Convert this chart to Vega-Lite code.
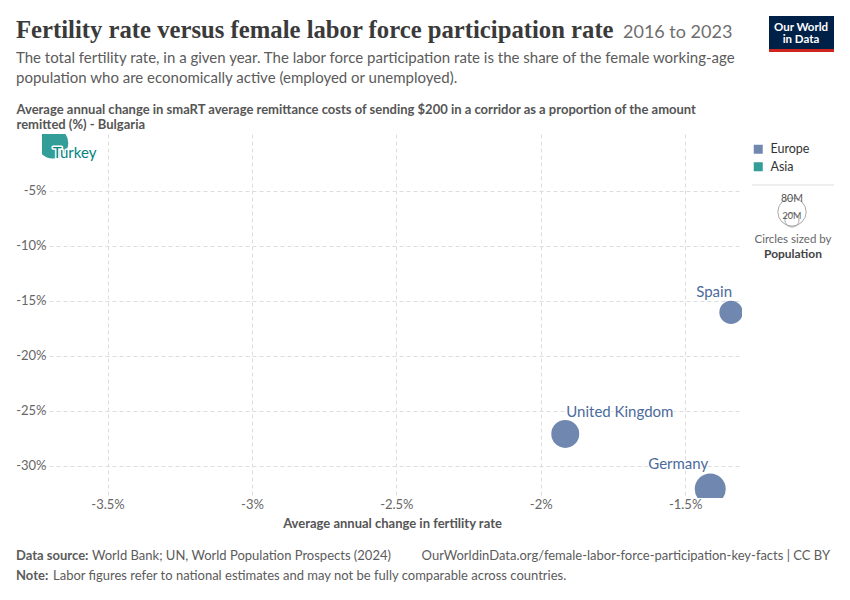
{
  "$schema": "https://vega.github.io/schema/vega-lite/v6.json",
  "width": 700,
  "height": 364,
  "autosize": {"type": "none"},
  "padding": {"left": 42, "top": 134, "right": 108, "bottom": 102},
  "background": "white",
  "datasets": {
    "countries": [
      {"country": "Turkey", "continent": "Asia", "fertility_change": -3.69, "remittance_change": -0.64, "population": 85300000},
      {"country": "Spain", "continent": "Europe", "fertility_change": -1.341, "remittance_change": -16.03, "population": 47900000},
      {"country": "United Kingdom", "continent": "Europe", "fertility_change": -1.915, "remittance_change": -27.09, "population": 68700000},
      {"country": "Germany", "continent": "Europe", "fertility_change": -1.413, "remittance_change": -32.09, "population": 84500000}
    ]
  },
  "data": {"name": "countries"},
  "resolve": {"scale": {"size": "independent"}},
  "config": {
    "view": {"stroke": null},
    "font": "Lato",
    "axis": {
      "domain": false,
      "ticks": false,
      "tickSize": 0,
      "grid": true,
      "gridColor": "#dddddd",
      "gridDash": [4, 3],
      "labelFont": "Lato",
      "labelFontSize": 13,
      "labelColor": "#666666",
      "titleFont": "Lato",
      "titleFontWeight": "bold",
      "titleFontSize": 13,
      "titleColor": "#555555"
    }
  },
  "layer": [
    {
      "mark": {"type": "circle", "opacity": 0.8, "clip": true},
      "encoding": {
        "x": {
          "field": "fertility_change",
          "type": "quantitative",
          "scale": {"domain": [-3.727, -1.303], "nice": false, "zero": false},
          "axis": {
            "values": [-3.5, -3, -2.5, -2, -1.5],
            "labelExpr": "datum.value + '%'",
            "labelPadding": 0,
            "title": "Average annual change in fertility rate",
            "titleBaseline": "alphabetic",
            "titleY": 29
          }
        },
        "y": {
          "field": "remittance_change",
          "type": "quantitative",
          "scale": {"domain": [-32.91, 0.18], "nice": false, "zero": false},
          "axis": {
            "values": [-5, -10, -15, -20, -25, -30],
            "labelExpr": "datum.value + '%'",
            "labelPadding": -4,
            "title": ["Average annual change in smaRT average remittance costs of sending $200 in a corridor as a proportion of the amount", "remitted (%) - Bulgaria"],
            "titleAngle": 0,
            "titleAlign": "left",
            "titleBaseline": "alphabetic",
            "titleX": -26,
            "titleY": -21,
            "titleLineHeight": 15
          }
        },
        "color": {
          "field": "continent",
          "type": "nominal",
          "scale": {"domain": ["Europe", "Asia"], "range": ["#4C6A9C", "#00847E"]},
          "legend": {
            "orient": "none",
            "legendX": 710,
            "legendY": 9,
            "title": null,
            "symbolType": "square",
            "symbolSize": 81,
            "symbolOpacity": 0.8,
            "symbolStrokeWidth": 0,
            "labelFont": "Lato",
            "labelFontSize": 12.5,
            "labelColor": "#333333",
            "labelOffset": 6,
            "rowPadding": 4.5
          }
        },
        "size": {
          "field": "population",
          "type": "quantitative",
          "scale": {"domain": [0, 80000000], "range": [0, 910]},
          "legend": null
        }
      }
    },
    {
      "transform": [{"filter": "datum.country === 'Spain'"}],
      "encoding": {
        "x": {"field": "fertility_change", "type": "quantitative"},
        "y": {"field": "remittance_change", "type": "quantitative"},
        "text": {"field": "country"}
      },
      "layer": [
        {"mark": {"type": "text", "align": "right", "baseline": "alphabetic", "dx": 1, "dy": -15, "fontSize": 15, "fill": "white", "stroke": "white", "strokeWidth": 3, "strokeJoin": "round"}},
        {"mark": {"type": "text", "align": "right", "baseline": "alphabetic", "dx": 1, "dy": -15, "fontSize": 15, "color": "#4C6A9C"}}
      ]
    },
    {
      "transform": [{"filter": "datum.country === 'Germany'"}],
      "encoding": {
        "x": {"field": "fertility_change", "type": "quantitative"},
        "y": {"field": "remittance_change", "type": "quantitative"},
        "text": {"field": "country"}
      },
      "layer": [
        {"mark": {"type": "text", "align": "right", "baseline": "alphabetic", "dx": -2, "dy": -20, "fontSize": 15, "fill": "white", "stroke": "white", "strokeWidth": 3, "strokeJoin": "round"}},
        {"mark": {"type": "text", "align": "right", "baseline": "alphabetic", "dx": -2, "dy": -20, "fontSize": 15, "color": "#4C6A9C"}}
      ]
    },
    {
      "transform": [{"filter": "datum.country === 'United Kingdom'"}],
      "encoding": {
        "x": {"field": "fertility_change", "type": "quantitative"},
        "y": {"field": "remittance_change", "type": "quantitative"},
        "text": {"field": "country"}
      },
      "layer": [
        {"mark": {"type": "text", "align": "left", "baseline": "alphabetic", "dx": 1, "dy": -17, "fontSize": 15, "fill": "white", "stroke": "white", "strokeWidth": 3, "strokeJoin": "round"}},
        {"mark": {"type": "text", "align": "left", "baseline": "alphabetic", "dx": 1, "dy": -17, "fontSize": 15, "color": "#4C6A9C"}}
      ]
    },
    {
      "transform": [{"filter": "datum.country === 'Turkey'"}],
      "encoding": {
        "x": {"field": "fertility_change", "type": "quantitative"},
        "y": {"field": "remittance_change", "type": "quantitative"},
        "text": {"field": "country"}
      },
      "layer": [
        {"mark": {"type": "text", "align": "left", "baseline": "alphabetic", "dx": 0, "dy": 15, "fontSize": 15, "fill": "white", "stroke": "white", "strokeWidth": 3, "strokeJoin": "round"}},
        {"mark": {"type": "text", "align": "left", "baseline": "alphabetic", "dx": 0, "dy": 15, "fontSize": 15, "color": "#00847E"}}
      ]
    },
    {
      "data": {"values": [{"t": "Fertility rate versus female labor force participation rate"}]},
      "mark": {"type": "text", "align": "left", "baseline": "alphabetic", "font": "Liberation Serif", "fontSize": 24.7, "fontWeight": "bold", "color": "#3a3a3a"},
      "encoding": {"x": {"value": -26}, "y": {"value": -96}, "text": {"field": "t"}}
    },
    {
      "data": {"values": [{"t": "2016 to 2023"}]},
      "mark": {"type": "text", "align": "left", "baseline": "alphabetic", "fontSize": 18, "color": "#6e6e6e"},
      "encoding": {"x": {"value": 581}, "y": {"value": -96}, "text": {"field": "t"}}
    },
    {
      "data": {"values": [{"t": ["The total fertility rate, in a given year. The labor force participation rate is the share of the female working-age", "population who are economically active (employed or unemployed)."]}]},
      "mark": {"type": "text", "align": "left", "baseline": "alphabetic", "fontSize": 15, "lineHeight": 20, "color": "#5b5b5b"},
      "encoding": {"x": {"value": -26}, "y": {"value": -71}, "text": {"field": "t"}}
    },
    {
      "data": {"values": [{"t": "logo"}]},
      "mark": {"type": "rect", "color": "#002147"},
      "encoding": {"x": {"value": 727}, "x2": {"value": 792}, "y": {"value": -118}, "y2": {"value": -85}}
    },
    {
      "data": {"values": [{"t": "logo"}]},
      "mark": {"type": "rect", "color": "#ce261e"},
      "encoding": {"x": {"value": 727}, "x2": {"value": 792}, "y": {"value": -85}, "y2": {"value": -82}}
    },
    {
      "data": {"values": [{"t": "Our World"}]},
      "mark": {"type": "text", "align": "center", "baseline": "alphabetic", "fontSize": 11.5, "fontWeight": "bold", "color": "white"},
      "encoding": {"x": {"value": 759}, "y": {"value": -103}, "text": {"field": "t"}}
    },
    {
      "data": {"values": [{"t": "in Data"}]},
      "mark": {"type": "text", "align": "center", "baseline": "alphabetic", "fontSize": 11.5, "fontWeight": "bold", "color": "white"},
      "encoding": {"x": {"value": 759}, "y": {"value": -91.5}, "text": {"field": "t"}}
    },
    {
      "data": {"values": [{"t": "separator"}]},
      "mark": {"type": "rule", "color": "#dddddd"},
      "encoding": {"x": {"value": 710}, "x2": {"value": 792}, "y": {"value": 51}}
    },
    {
      "data": {"values": [{"label": "80M", "population": 80000000}]},
      "mark": {"type": "circle", "filled": false, "stroke": "#aaaaaa", "strokeWidth": 1, "opacity": 1},
      "encoding": {"x": {"value": 750}, "y": {"value": 78}, "size": {"field": "population", "type": "quantitative", "scale": {"domain": [0, 80000000], "range": [0, 800]}, "legend": null}}
    },
    {
      "data": {"values": [{"label": "20M", "population": 20000000}]},
      "mark": {"type": "circle", "filled": false, "stroke": "#aaaaaa", "strokeWidth": 1, "opacity": 1},
      "encoding": {"x": {"value": 750}, "y": {"value": 86}, "size": {"field": "population", "type": "quantitative", "scale": {"domain": [0, 80000000], "range": [0, 800]}, "legend": null}}
    },
    {
      "data": {"values": [{"label": "80M"}]},
      "mark": {"type": "text", "align": "center", "baseline": "middle", "fontSize": 10.5, "color": "#555555"},
      "encoding": {"x": {"value": 750}, "y": {"value": 65}, "text": {"field": "label"}}
    },
    {
      "data": {"values": [{"label": "20M"}]},
      "mark": {"type": "text", "align": "center", "baseline": "middle", "fontSize": 9, "color": "#555555"},
      "encoding": {"x": {"value": 750}, "y": {"value": 82}, "text": {"field": "label"}}
    },
    {
      "data": {"values": [{"t": "Circles sized by"}]},
      "mark": {"type": "text", "align": "center", "baseline": "middle", "fontSize": 11.5, "color": "#666666"},
      "encoding": {"x": {"value": 751}, "y": {"value": 106}, "text": {"field": "t"}}
    },
    {
      "data": {"values": [{"t": "Population"}]},
      "mark": {"type": "text", "align": "center", "baseline": "middle", "fontSize": 12, "fontWeight": "bold", "color": "#444444"},
      "encoding": {"x": {"value": 751}, "y": {"value": 120}, "text": {"field": "t"}}
    },
    {
      "data": {"values": [{"t": "Data source:"}]},
      "mark": {"type": "text", "align": "left", "baseline": "alphabetic", "fontSize": 13, "fontWeight": "bold", "color": "#5b5b5b"},
      "encoding": {"x": {"value": -26}, "y": {"value": 426}, "text": {"field": "t"}}
    },
    {
      "data": {"values": [{"t": "World Bank; UN, World Population Prospects (2024)"}]},
      "mark": {"type": "text", "align": "left", "baseline": "alphabetic", "fontSize": 13, "color": "#5b5b5b"},
      "encoding": {"x": {"value": 50}, "y": {"value": 426}, "text": {"field": "t"}}
    },
    {
      "data": {"values": [{"t": "OurWorldinData.org/female-labor-force-participation-key-facts | CC BY"}]},
      "mark": {"type": "text", "align": "right", "baseline": "alphabetic", "fontSize": 13, "color": "#5b5b5b"},
      "encoding": {"x": {"value": 788}, "y": {"value": 426}, "text": {"field": "t"}}
    },
    {
      "data": {"values": [{"t": "Note:"}]},
      "mark": {"type": "text", "align": "left", "baseline": "alphabetic", "fontSize": 13, "fontWeight": "bold", "color": "#5b5b5b"},
      "encoding": {"x": {"value": -26}, "y": {"value": 446}, "text": {"field": "t"}}
    },
    {
      "data": {"values": [{"t": "Labor figures refer to national estimates and may not be fully comparable across countries."}]},
      "mark": {"type": "text", "align": "left", "baseline": "alphabetic", "fontSize": 13, "color": "#5b5b5b"},
      "encoding": {"x": {"value": 11}, "y": {"value": 446}, "text": {"field": "t"}}
    }
  ]
}
